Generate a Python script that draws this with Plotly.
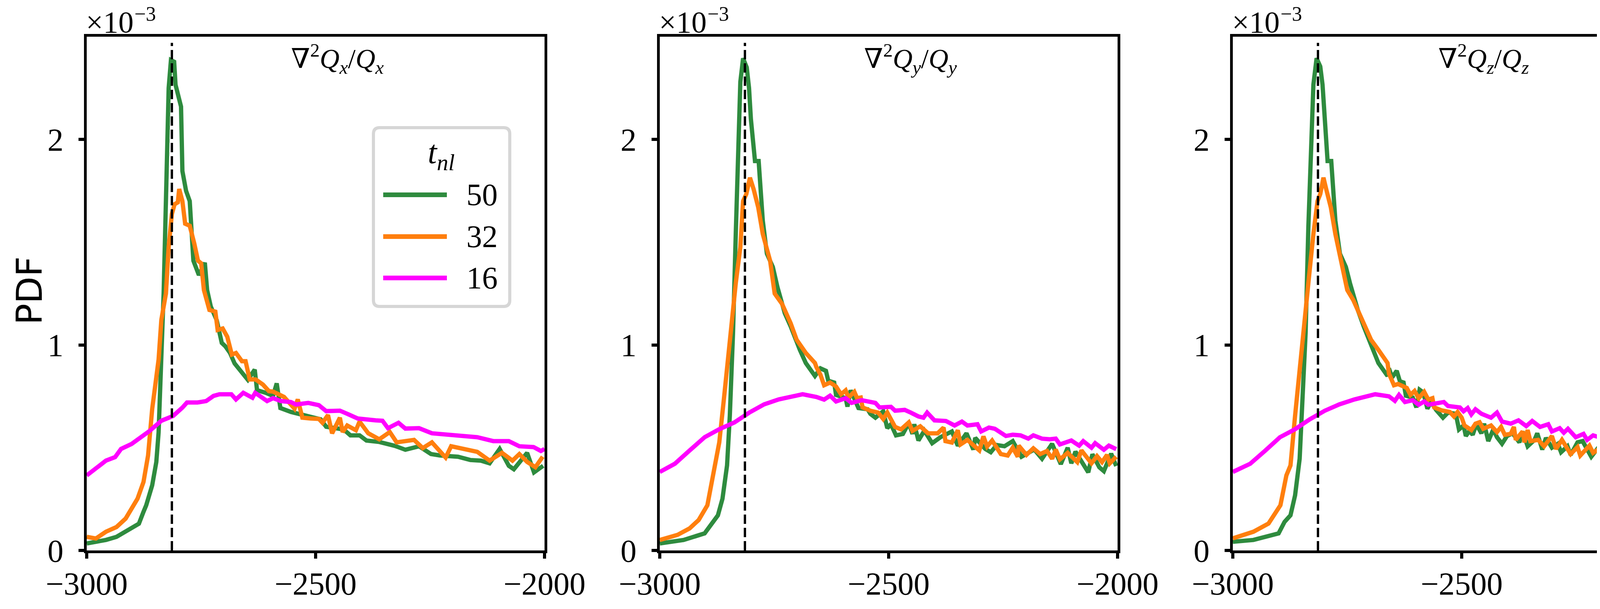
import plotly.graph_objects as go

# ---------------- data (PDF values in units of 1e-3) ----------------
P1_G_X = [-3000, -2958, -2935, -2902, -2886, -2876, -2870, -2857, -2848, -2843, -2837, -2832, -2827, -2821, -2816, -2809, -2806, -2801, -2794, -2791, -2783, -2775, -2767, -2755, -2742, -2737, -2729, -2716, -2705, -2697, -2687, -2677, -2661, -2648, -2633, -2628, -2609, -2593, -2585, -2577, -2554, -2539, -2500, -2489, -2477, -2439, -2424, -2404, -2389, -2361, -2327, -2304, -2274, -2248, -2228, -2189, -2162, -2139, -2120, -2098, -2078, -2067, -2038, -2023, -2003]
P1_G_Y = [0.034, 0.051, 0.066, 0.106, 0.13, 0.188, 0.22, 0.317, 0.43, 0.574, 0.896, 1.25, 1.70, 2.25, 2.386, 2.378, 2.266, 2.216, 2.16, 1.846, 1.75, 1.70, 1.41, 1.34, 1.40, 1.267, 1.187, 1.12, 1.01, 0.993, 0.961, 0.91, 0.864, 0.83, 0.88, 0.78, 0.767, 0.752, 0.813, 0.693, 0.674, 0.665, 0.646, 0.638, 0.602, 0.589, 0.56, 0.56, 0.535, 0.528, 0.509, 0.49, 0.507, 0.469, 0.462, 0.456, 0.44, 0.437, 0.424, 0.494, 0.412, 0.395, 0.475, 0.38, 0.412]

P1_O_X = [-3000, -2980, -2958, -2935, -2915, -2902, -2889, -2876, -2866, -2857, -2850, -2843, -2837, -2827, -2821, -2814, -2808, -2801, -2798, -2791, -2785, -2775, -2765, -2757, -2750, -2744, -2732, -2719, -2714, -2703, -2693, -2683, -2674, -2661, -2653, -2644, -2631, -2615, -2602, -2593, -2569, -2556, -2546, -2539, -2529, -2511, -2493, -2485, -2473, -2464, -2447, -2441, -2431, -2412, -2404, -2385, -2361, -2338, -2323, -2285, -2266, -2246, -2216, -2204, -2170, -2147, -2120, -2093, -2070, -2055, -2038, -2020, -2004]
P1_O_Y = [0.066, 0.058, 0.091, 0.114, 0.155, 0.204, 0.252, 0.333, 0.462, 0.688, 0.815, 0.929, 1.122, 1.25, 1.476, 1.637, 1.685, 1.694, 1.759, 1.70, 1.59, 1.58, 1.493, 1.41, 1.397, 1.267, 1.17, 1.162, 1.073, 1.08, 1.04, 0.953, 0.961, 0.921, 0.921, 0.832, 0.832, 0.807, 0.775, 0.773, 0.747, 0.71, 0.69, 0.735, 0.646, 0.642, 0.64, 0.621, 0.659, 0.57, 0.646, 0.576, 0.608, 0.585, 0.627, 0.57, 0.541, 0.576, 0.526, 0.538, 0.498, 0.526, 0.452, 0.507, 0.494, 0.48, 0.437, 0.475, 0.437, 0.469, 0.431, 0.405, 0.456]

P1_M_X = [-3000, -2974, -2958, -2938, -2925, -2902, -2883, -2863, -2837, -2811, -2791, -2781, -2758, -2739, -2723, -2710, -2684, -2674, -2658, -2638, -2632, -2606, -2593, -2576, -2554, -2543, -2516, -2493, -2477, -2447, -2431, -2408, -2369, -2354, -2342, -2319, -2304, -2274, -2246, -2208, -2177, -2147, -2112, -2078, -2055, -2024, -2008, -2000]
P1_M_Y = [0.365, 0.412, 0.437, 0.454, 0.494, 0.518, 0.549, 0.581, 0.631, 0.655, 0.695, 0.72, 0.72, 0.727, 0.752, 0.76, 0.76, 0.735, 0.767, 0.743, 0.767, 0.727, 0.741, 0.727, 0.722, 0.71, 0.718, 0.707, 0.678, 0.68, 0.665, 0.642, 0.633, 0.631, 0.595, 0.621, 0.593, 0.595, 0.57, 0.564, 0.555, 0.551, 0.532, 0.532, 0.507, 0.503, 0.484, 0.494]

P2_G_X = [-3000, -2948, -2902, -2889, -2873, -2863, -2853, -2847, -2840, -2834, -2827, -2824, -2818, -2810, -2805, -2801, -2792, -2784, -2775, -2766, -2753, -2743, -2727, -2714, -2694, -2681, -2661,
          -2649, -2637, -2632, -2619, -2615, -2594, -2590, -2583, -2566, -2546, -2540, -2529, -2512, -2503, -2495, -2484, -2469, -2456, -2448, -2444, -2435, -2422, -2405, -2387, -2362, -2349, -2330, -2315, -2311, -2289, -2277, -2264, -2247, -2229, -2210, -2182, -2165, -2143, -2124, -2109, -2101, -2092, -2064, -2055, -2040, -2030, -2014, -2003]
P2_G_Y = [0.034, 0.051, 0.083, 0.123, 0.171, 0.252, 0.414, 0.655, 1.058, 1.54, 2.10, 2.28, 2.395, 2.35, 2.25, 2.10, 1.895, 1.895, 1.605, 1.444, 1.379, 1.282, 1.155, 1.09, 0.976, 0.912, 0.849,
          0.886, 0.874, 0.826, 0.817, 0.757, 0.741, 0.70, 0.779, 0.693, 0.687, 0.665, 0.646, 0.677, 0.595, 0.614, 0.56, 0.567, 0.62, 0.567, 0.614, 0.535, 0.583, 0.522, 0.551, 0.579, 0.51, 0.57, 0.491, 0.548, 0.494, 0.478, 0.513, 0.507, 0.532, 0.456, 0.491, 0.446, 0.519, 0.42, 0.50, 0.424, 0.481, 0.38, 0.468, 0.405, 0.386, 0.471, 0.411]

P2_O_X = [-3000, -2961, -2935, -2915, -2896, -2883, -2870, -2860, -2853, -2844, -2834, -2824, -2818, -2811, -2803, -2795, -2785, -2775, -2759, -2749, -2733, -2714, -2701, -2681, -2661,
          -2658, -2649, -2641, -2628, -2615, -2604, -2594, -2588, -2575, -2569, -2561, -2557, -2540, -2523, -2512, -2503, -2486, -2473, -2456, -2448, -2431, -2414, -2393, -2380, -2376, -2362, -2349, -2343, -2328, -2302, -2293, -2285, -2274, -2255, -2240, -2229, -2218, -2216, -2199, -2184, -2169, -2154, -2143, -2135, -2126, -2109, -2088, -2079, -2057, -2045, -2034, -2023, -2017, -2003]
P2_O_Y = [0.051, 0.076, 0.107, 0.148, 0.22, 0.365, 0.526, 0.735, 0.896, 1.09, 1.30, 1.476, 1.70, 1.734, 1.814, 1.758, 1.67, 1.54, 1.41, 1.25, 1.20, 1.105, 1.025, 0.961, 0.912,
          0.893, 0.855, 0.804, 0.817, 0.798, 0.76, 0.779, 0.744, 0.772, 0.741, 0.744, 0.696, 0.68, 0.671, 0.64, 0.671, 0.601, 0.589, 0.623, 0.582, 0.604, 0.57, 0.57, 0.598, 0.532, 0.525, 0.585, 0.516, 0.538, 0.487, 0.555, 0.506, 0.535, 0.469, 0.462, 0.50, 0.456, 0.51, 0.465, 0.497, 0.469, 0.484, 0.446, 0.491, 0.443, 0.475, 0.43, 0.487, 0.424, 0.459, 0.43, 0.465, 0.424, 0.456]

P2_M_X = [-3000, -2967, -2935, -2902, -2870, -2837, -2805, -2772, -2740, -2688,
          -2658, -2641, -2628, -2615, -2594, -2581, -2559, -2529, -2520, -2495, -2486, -2465, -2452, -2435, -2424, -2416, -2400, -2375, -2356, -2340, -2328, -2306, -2298, -2281, -2268, -2244, -2229, -2212, -2195, -2184, -2165, -2148, -2135, -2126, -2101, -2084, -2075, -2057, -2049, -2030, -2019, -2003]
P2_M_Y = [0.382, 0.422, 0.486, 0.551, 0.59, 0.623, 0.67, 0.711, 0.735, 0.76,
          0.747, 0.734, 0.753, 0.725, 0.741, 0.718, 0.731, 0.718, 0.696, 0.699, 0.68, 0.684, 0.671, 0.652, 0.646, 0.671, 0.633, 0.63, 0.608, 0.627, 0.608, 0.614, 0.579, 0.598, 0.592, 0.557, 0.563, 0.56, 0.544, 0.56, 0.544, 0.541, 0.544, 0.516, 0.535, 0.51, 0.532, 0.50, 0.522, 0.49, 0.51, 0.493]

P3_G_X = [-3000, -2955, -2900, -2887, -2874, -2864, -2854, -2848, -2841, -2835, -2828, -2824, -2817, -2809, -2804, -2799, -2793, -2785, -2776, -2766, -2753, -2744, -2727, -2714, -2695, -2682, -2662,
          -2659, -2652, -2642, -2635, -2627, -2622, -2607, -2599, -2592, -2584, -2575, -2567, -2556, -2541, -2530, -2513, -2506, -2496, -2491, -2483, -2476, -2468, -2457, -2451, -2442, -2431, -2423, -2412, -2401, -2389, -2374, -2367, -2356, -2341, -2335, -2324, -2316, -2303, -2290, -2283, -2269, -2262, -2247, -2236, -2217, -2204, -2187, -2170, -2161, -2148, -2133, -2123, -2108, -2101, -2071, -2065, -2050, -2037, -2024, -2003]
P3_G_Y = [0.042, 0.051, 0.083, 0.139, 0.171, 0.268, 0.446, 0.735, 1.058, 1.573, 2.02, 2.266, 2.395, 2.355, 2.266, 2.12, 1.895, 1.895, 1.605, 1.444, 1.379, 1.30, 1.17, 1.09, 0.976, 0.912, 0.849,
          0.886, 0.842, 0.874, 0.823, 0.817, 0.753, 0.744, 0.696, 0.782, 0.769, 0.69, 0.722, 0.684, 0.646, 0.671, 0.665, 0.589, 0.608, 0.557, 0.582, 0.563, 0.614, 0.57, 0.617, 0.532, 0.589, 0.551, 0.519, 0.557, 0.57, 0.526, 0.579, 0.507, 0.538, 0.57, 0.491, 0.548, 0.50, 0.519, 0.478, 0.507, 0.465, 0.526, 0.532, 0.456, 0.494, 0.475, 0.446, 0.443, 0.519, 0.418, 0.507, 0.418, 0.491, 0.377, 0.456, 0.469, 0.383, 0.475, 0.408]

P3_O_X = [-3000, -2955, -2922, -2896, -2883, -2874, -2864, -2854, -2844, -2835, -2824, -2815, -2809, -2802, -2796, -2786, -2776, -2763, -2750, -2737, -2714, -2698, -2682, -2662,
          -2659, -2648, -2639, -2620, -2612, -2603, -2594, -2582, -2573, -2564, -2560, -2543, -2526, -2517, -2509, -2500, -2494, -2479, -2470, -2461, -2453, -2436, -2423, -2414, -2406, -2393, -2386, -2382, -2367, -2363, -2356, -2350, -2333, -2320, -2303, -2294, -2281, -2273, -2262, -2247, -2241, -2221, -2213, -2198, -2187, -2170, -2161, -2148, -2140, -2133, -2118, -2101, -2088, -2076, -2060, -2050, -2039, -2028, -2003]
P3_O_Y = [0.059, 0.091, 0.131, 0.22, 0.365, 0.414, 0.655, 0.896, 1.09, 1.30, 1.54, 1.70, 1.734, 1.814, 1.758, 1.67, 1.54, 1.41, 1.267, 1.219, 1.105, 1.025, 0.976, 0.912,
          0.861, 0.804, 0.81, 0.791, 0.757, 0.776, 0.741, 0.772, 0.734, 0.741, 0.696, 0.681, 0.674, 0.652, 0.674, 0.646, 0.608, 0.586, 0.617, 0.624, 0.592, 0.608, 0.576, 0.601, 0.563, 0.567, 0.601, 0.538, 0.579, 0.526, 0.586, 0.532, 0.538, 0.507, 0.557, 0.494, 0.538, 0.507, 0.469, 0.503, 0.462, 0.51, 0.475, 0.497, 0.462, 0.475, 0.491, 0.443, 0.487, 0.443, 0.469, 0.434, 0.487, 0.431, 0.424, 0.462, 0.427, 0.462, 0.437]

P3_M_X = [-3000, -2962, -2929, -2897, -2864, -2832, -2799, -2767, -2734, -2689,
          -2659, -2646, -2637, -2624, -2607, -2594, -2582, -2573, -2539, -2530, -2504, -2496, -2487, -2479, -2470, -2457, -2436, -2423, -2412, -2393, -2376, -2359, -2346, -2329, -2311, -2303, -2286, -2277, -2268, -2251, -2234, -2226, -2213, -2191, -2183, -2170, -2153, -2142, -2140, -2123, -2114, -2106, -2093, -2084, -2067, -2054, -2041, -2028, -2020, -2003]
P3_M_Y = [0.382, 0.422, 0.486, 0.551, 0.59, 0.638, 0.68, 0.711, 0.735, 0.76,
          0.75, 0.728, 0.757, 0.722, 0.731, 0.709, 0.725, 0.709, 0.722, 0.703, 0.696, 0.677, 0.693, 0.662, 0.687, 0.665, 0.646, 0.671, 0.627, 0.617, 0.633, 0.605, 0.63, 0.601, 0.614, 0.579, 0.595, 0.573, 0.592, 0.551, 0.567, 0.538, 0.56, 0.545, 0.567, 0.538, 0.541, 0.551, 0.516, 0.529, 0.507, 0.538, 0.507, 0.532, 0.50, 0.522, 0.494, 0.516, 0.494, 0.50]

SERIES_NAMES = ["50", "32", "16"]
PANEL_TITLES = [
    "∇<sup>2</sup><i>Q</i><sub><i>x</i></sub>/<i>Q</i><sub><i>x</i></sub>",
    "∇<sup>2</sup><i>Q</i><sub><i>y</i></sub>/<i>Q</i><sub><i>y</i></sub>",
    "∇<sup>2</sup><i>Q</i><sub><i>z</i></sub>/<i>Q</i><sub><i>z</i></sub>",
]
X_TICKS = [-3000, -2500, -2000]
Y_TICKS = [0, 1, 2]
Y_TICK_TEXT = ["0", "1", "2"]
DASH_X = -2814
DASH_TOP = 2.47

PANELS = [
    [(P1_G_X, P1_G_Y), (P1_O_X, P1_O_Y), (P1_M_X, P1_M_Y)],
    [(P2_G_X, P2_G_Y), (P2_O_X, P2_O_Y), (P2_M_X, P2_M_Y)],
    [(P3_G_X, P3_G_Y), (P3_O_X, P3_O_Y), (P3_M_X, P3_M_Y)],
]

# ---------------- style ----------------
PAGE_OFF = 8                      # default body margin of the html page
W, H = 4440 - 2 * PAGE_OFF, 1560 - 2 * PAGE_OFF
COLORS = ["#2e8b3e", "#ff7f0e", "#ff00ff"]
SERIF = "Liberation Serif, DejaVu Serif, serif"
PANEL_LEFT = [222, 1689, 3156]    # target pixel positions on the page
PANEL_W = 1172
PLOT_TOP, PLOT_BOT = 94, 1410


def px(x):
    return (x - PAGE_OFF) / W


def py(y):
    return 1 - (y - PAGE_OFF) / H


fig = go.Figure()
for i, panel in enumerate(PANELS):
    ax = "" if i == 0 else str(i + 1)
    for j, (xs, ys) in enumerate(panel):
        fig.add_trace(go.Scatter(
            x=xs, y=ys, mode="lines", name=SERIES_NAMES[j],
            line=dict(color=COLORS[j], width=11),
            xaxis="x" + ax, yaxis="y" + ax, showlegend=False, hoverinfo="skip",
        ))
    fig.add_trace(go.Scatter(
        x=[DASH_X, DASH_X], y=[0, DASH_TOP], mode="lines",
        line=dict(color="black", width=6, dash="24px,10px"),
        xaxis="x" + ax, yaxis="y" + ax, showlegend=False, hoverinfo="skip",
    ))

axis_common = dict(
    showline=True, linecolor="black", linewidth=7, mirror=True,
    ticks="outside", ticklen=14, tickwidth=8, tickcolor="black",
    showgrid=False, zeroline=False, automargin=False,
    tickfont=dict(family=SERIF, size=82, color="black"),
)

layout = dict(
    width=W, height=H, margin=dict(l=0, r=0, t=0, b=0, autoexpand=False),
    paper_bgcolor="white", plot_bgcolor="white", showlegend=False,
)
for i in range(3):
    ax = "" if i == 0 else str(i + 1)
    x0 = PANEL_LEFT[i]
    layout["xaxis" + ax] = dict(
        axis_common, domain=[px(x0), px(x0 + PANEL_W)], range=[-3000, -2000],
        tickvals=X_TICKS, anchor="y" + ax, ticklabelstandoff=-6,
    )
    layout["yaxis" + ax] = dict(
        axis_common, domain=[py(PLOT_BOT), py(PLOT_TOP)], range=[0, 2.5],
        tickvals=Y_TICKS, ticktext=Y_TICK_TEXT, anchor="x" + ax, ticklabelstandoff=22,
    )
fig.update_layout(**layout)

annotations = []
shapes = []
for i in range(3):
    x0 = PANEL_LEFT[i]
    annotations.append(dict(
        x=px(x0 - 4), y=py(56), xref="paper", yref="paper", xanchor="left", yanchor="middle",
        text="×10", showarrow=False, font=dict(family=SERIF, size=78, color="black"),
    ))
    annotations.append(dict(
        x=px(x0 + 120), y=py(36), xref="paper", yref="paper", xanchor="left", yanchor="middle",
        text="−3", showarrow=False, font=dict(family=SERIF, size=52, color="black"),
    ))
    annotations.append(dict(
        x=px(x0 + 0.548 * PANEL_W), y=py(150), xref="paper", yref="paper",
        xanchor="center", yanchor="middle", text=PANEL_TITLES[i], showarrow=False,
        font=dict(family=SERIF, size=70, color="black"),
    ))

annotations.append(dict(
    x=px(76), y=py(745), xref="paper", yref="paper", xanchor="center", yanchor="middle",
    text="PDF", textangle=-90, showarrow=False,
    font=dict(family="DejaVu Sans, sans-serif", size=90, color="black"),
))

# legend (drawn manually to match the boxed matplotlib legend)
LX0, LX1, LY0, LY1, R = 956, 1305, 327, 785, 16
rx, ry = R / W, R / H
a, b, c, d = px(LX0), px(LX1), py(LY0), py(LY1)
path = (f"M {a+rx},{c} L {b-rx},{c} Q {b},{c} {b},{c-ry} L {b},{d+ry} Q {b},{d} {b-rx},{d} "
        f"L {a+rx},{d} Q {a},{d} {a},{d+ry} L {a},{c-ry} Q {a},{c} {a+rx},{c} Z")
shapes.append(dict(type="path", path=path, xref="paper", yref="paper",
                   line=dict(color="#d6d6d6", width=8), fillcolor="rgba(255,255,255,0.85)"))
annotations.append(dict(
    x=px(1129), y=py(396), xref="paper", yref="paper", xanchor="center", yanchor="middle",
    text="<i>t</i><sub><i>nl</i></sub>", showarrow=False,
    font=dict(family=SERIF, size=84, color="black"),
))
LEG_Y = [499, 606, 712]
for j in range(3):
    shapes.append(dict(type="line", xref="paper", yref="paper",
                       x0=px(981), x1=px(1144), y0=py(LEG_Y[j]), y1=py(LEG_Y[j]),
                       line=dict(color=COLORS[j], width=12)))
    annotations.append(dict(
        x=px(1192), y=py(LEG_Y[j]), xref="paper", yref="paper", xanchor="left", yanchor="middle",
        text=SERIES_NAMES[j], showarrow=False, font=dict(family=SERIF, size=80, color="black"),
    ))

fig.update_layout(annotations=annotations, shapes=shapes)
fig.write_html("out.html")
